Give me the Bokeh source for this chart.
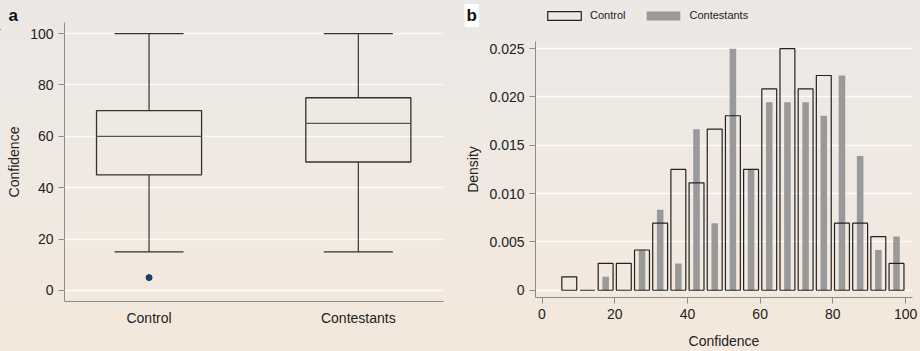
from bokeh.plotting import figure
from bokeh.layouts import row, column
from bokeh.models import (Range1d, FixedTicker, Label, Legend, LegendItem,
                          ColumnDataSource, PrintfTickFormatter)
from bokeh.transform import dodge
from bokeh.embed import file_html
from bokeh.resources import INLINE

# ---- panel a: box plot of confidence by group ----
groups = ["Control", "Contestants"]
q1 = [45, 50]
median = [60, 65]
q3 = [70, 75]
whisker_low = [15, 15]
whisker_high = [100, 100]
outlier_group = [1]
outlier_value = [5]

# ---- panel b: histogram counts per 5-point bin ----
bin_left = [5, 10, 15, 20, 25, 30, 35, 40, 45, 50, 55, 60, 65, 70, 75, 80, 85, 90, 95]
control_counts = [1, 0, 2, 2, 3, 5, 9, 8, 12, 13, 9, 15, 18, 15, 16, 5, 5, 4, 2]
contestant_counts = [0, 0, 1, 0, 3, 6, 2, 12, 5, 18, 9, 14, 14, 14, 13, 16, 10, 3, 4]
bin_width = 5

FONT = "Liberation Sans"
TEXT = "#222222"
AXIS = "#8c8c8c"
BOX = "#333333"
GREY_BAR = "#999999"
OUTLINE = "#222222"

HEADER_H = 30
OVERLAP = 8


def style(p):
    p.background_fill_alpha = 0
    p.border_fill_alpha = 0
    p.outline_line_color = None
    p.xgrid.grid_line_color = None
    p.ygrid.grid_line_color = "white"
    p.ygrid.grid_line_width = 1.6
    p.ygrid.grid_line_alpha = 0.85
    for ax in (p.xaxis, p.yaxis):
        ax.axis_line_color = AXIS
        ax.major_tick_line_color = AXIS
        ax.minor_tick_line_color = None
        ax.major_tick_out = 6
        ax.major_tick_in = 0
        ax.major_label_text_font = FONT
        ax.major_label_text_font_size = "14px"
        ax.major_label_text_color = TEXT
        ax.axis_label_text_font = FONT
        ax.axis_label_text_font_size = "14px"
        ax.axis_label_text_font_style = "normal"
        ax.axis_label_text_color = TEXT


# header strip: panel letters and the histogram key
hd = figure(width=920, height=HEADER_H, output_backend="svg", toolbar_location=None,
            x_range=Range1d(0, 920), y_range=Range1d(0, HEADER_H),
            x_axis_type=None, y_axis_type=None, frame_align=False,
            min_border=0, min_border_left=0, min_border_right=0,
            min_border_top=0, min_border_bottom=0)
hd.background_fill_alpha = 0
hd.border_fill_alpha = 0
hd.outline_line_color = None
hd.grid.grid_line_color = None
hd.add_layout(Label(x=8, y=HEADER_H - 15, text="a", text_font=FONT,
                    text_font_style="bold", text_font_size="17px",
                    text_color="#111111", text_baseline="alphabetic"))
hd.add_layout(Label(x=464, y=HEADER_H - 15, text="b", text_font=FONT,
                    text_font_style="bold", text_font_size="17px",
                    text_color="#111111", text_baseline="alphabetic",
                    background_fill_color="white", border_line_color=None,
                    padding=2))
# off-screen swatch renderers that only feed the key
key_control = hd.vbar(x=[-50], top=[1], width=1, fill_color=None,
                      line_color=OUTLINE, line_width=1.2)
key_contest = hd.vbar(x=[-50], top=[1], width=1, fill_color=GREY_BAR, line_color=None)
key = Legend(items=[LegendItem(label="Control", renderers=[key_control]),
                    LegendItem(label="Contestants", renderers=[key_contest])],
             orientation="horizontal", location=(543, HEADER_H - 21),
             glyph_width=42, glyph_height=11, label_standoff=5, spacing=17,
             padding=0, margin=0, border_line_color=None,
             background_fill_alpha=0, label_text_font=FONT,
             label_text_font_size="11px", label_text_color=TEXT,
             label_height=11, label_text_baseline="middle")
hd.add_layout(key, "center")

# panel a
pa = figure(width=460, height=329, output_backend="svg", toolbar_location=None,
            x_range=Range1d(0.596, 2.407), y_range=Range1d(-4.3, 104.3),
            frame_align=False,
            min_border_left=64, min_border_right=17, min_border_top=0,
            min_border_bottom=50)
style(pa)
pos = list(range(1, len(groups) + 1))
pa.xaxis.ticker = FixedTicker(ticks=pos)
pa.xaxis.major_label_overrides = {p: g for p, g in zip(pos, groups)}
pa.xaxis.major_tick_line_color = None
pa.xaxis.major_tick_out = 0
pa.xaxis.major_label_standoff = 8
pa.yaxis.ticker = FixedTicker(ticks=[0, 20, 40, 60, 80, 100])
pa.yaxis.axis_label = "Confidence"

box_src = ColumnDataSource(dict(x=pos, q1=q1, q3=q3, med=median,
                                lo=whisker_low, hi=whisker_high))
half_box = 0.251
half_cap = 0.165
pa.segment(x0="x", x1="x", y0="q3", y1="hi", source=box_src, line_color=BOX, line_width=1.2)
pa.segment(x0="x", x1="x", y0="lo", y1="q1", source=box_src, line_color=BOX, line_width=1.2)
pa.vbar(x="x", width=2 * half_box, bottom="q1", top="q3", source=box_src,
        fill_color=None, line_color=BOX, line_width=1.3)
pa.segment(x0=dodge("x", -half_box), x1=dodge("x", half_box), y0="med", y1="med",
           source=box_src, line_color="#555555", line_width=1.3)
pa.segment(x0=dodge("x", -half_cap), x1=dodge("x", half_cap), y0="hi", y1="hi",
           source=box_src, line_color=BOX, line_width=1.2)
pa.segment(x0=dodge("x", -half_cap), x1=dodge("x", half_cap), y0="lo", y1="lo",
           source=box_src, line_color=BOX, line_width=1.2)
pa.scatter(outlier_group, outlier_value, size=6, fill_color="#1d3f5e",
           line_color="#1d3f5e")

# panel b
n_control = sum(control_counts)
n_contest = sum(contestant_counts)
centers = [b + bin_width / 2 for b in bin_left]
hist_src = ColumnDataSource(dict(
    x=centers,
    control=[c / (n_control * bin_width) for c in control_counts],
    contest=[c / (n_contest * bin_width) for c in contestant_counts],
))

pb = figure(width=460, height=329, output_backend="svg", toolbar_location=None,
            x_range=Range1d(-1.79, 101.9), y_range=Range1d(-0.00075, 0.02574),
            frame_align=False,
            min_border_left=75, min_border_right=8, min_border_top=19,
            min_border_bottom=49)
style(pb)
pb.xaxis.ticker = FixedTicker(ticks=[0, 20, 40, 60, 80, 100])
pb.yaxis.ticker = FixedTicker(ticks=[0, 0.005, 0.010, 0.015, 0.020, 0.025])
pb.yaxis.formatter = PrintfTickFormatter(format="%.3f")
pb.yaxis.major_label_overrides = {0: "0"}
pb.xaxis.axis_label = "Confidence"
pb.xaxis.axis_label_standoff = 11
pb.yaxis.axis_label = "Density"

pb.vbar(x="x", width=1.8, bottom=0, top="contest", source=hist_src,
        fill_color=GREY_BAR, line_color=None)
pb.vbar(x="x", width=4.1, bottom=0, top="control", source=hist_src,
        fill_color=None, line_color=OUTLINE, line_width=1.2)

panels = row(pa, pb, styles={"margin-top": f"-{OVERLAP}px"})
layout = column(hd, panels,
                styles={"background": "linear-gradient(180deg, #ebe8e5 0%, #efe9e2 45%, #f5e8dc 100%)"})

open("out.html", "w").write(file_html(layout, INLINE))
